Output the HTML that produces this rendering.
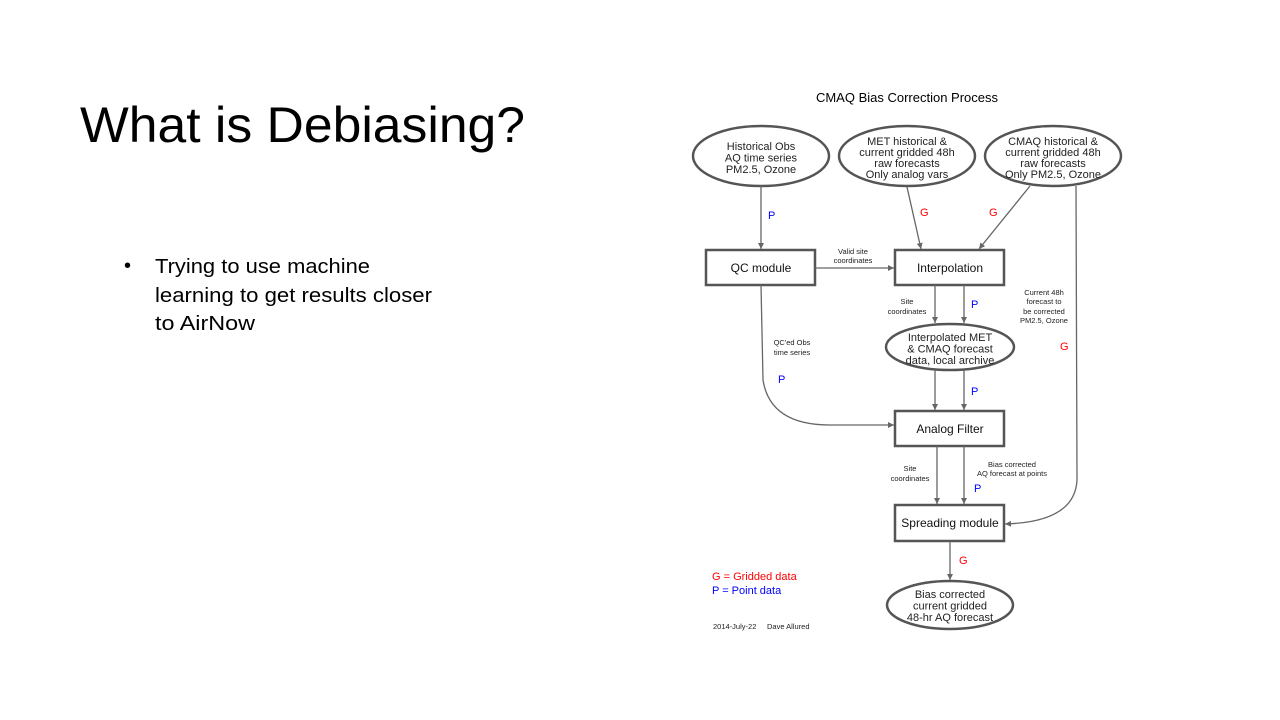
<!DOCTYPE html>
<html><head><meta charset="utf-8"><style>
html,body{margin:0;padding:0;background:#fff;}
svg{display:block;font-family:"Liberation Sans",Arial,sans-serif;}
</style></head><body>
<svg width="1280" height="720" viewBox="0 0 1280 720" xmlns="http://www.w3.org/2000/svg">
<defs>
<marker id="a" markerWidth="8" markerHeight="8" refX="6" refY="3" orient="auto" markerUnits="userSpaceOnUse">
<path d="M0,0 L6,3 L0,6 Z" fill="#666"/></marker>
</defs>
<rect width="1280" height="720" fill="#fff"/>
<text x="80" y="142" font-size="50" fill="#000" textLength="445" lengthAdjust="spacingAndGlyphs">What is Debiasing?</text>
<text x="124" y="272" font-size="20" fill="#000">•</text>
<text x="155" y="273" font-size="20" fill="#000" textLength="215" lengthAdjust="spacingAndGlyphs">Trying to use machine</text>
<text x="155" y="302" font-size="20" fill="#000" textLength="277" lengthAdjust="spacingAndGlyphs">learning to get results closer</text>
<text x="155" y="330" font-size="20" fill="#000" textLength="100" lengthAdjust="spacingAndGlyphs">to AirNow</text>

<text x="907" y="102" font-size="13" text-anchor="middle" fill="#000">CMAQ Bias Correction Process</text>

<g fill="#fff" stroke="#555" stroke-width="2.5">
<ellipse cx="761" cy="156" rx="68" ry="30"/>
<ellipse cx="907" cy="156" rx="68" ry="30"/>
<ellipse cx="1053" cy="156" rx="68" ry="30"/>
<rect x="706" y="250" width="109" height="35"/>
<rect x="895" y="250" width="109" height="35"/>
<ellipse cx="950" cy="347" rx="64" ry="23"/>
<rect x="895" y="411" width="109" height="35"/>
<rect x="895" y="505" width="109" height="36"/>
<ellipse cx="950" cy="605" rx="63" ry="24"/>
</g>

<g stroke="#666" stroke-width="1.3" fill="none" marker-end="url(#a)">
<line x1="761" y1="186" x2="761" y2="249"/>
<line x1="815" y1="268" x2="894" y2="268"/>
<line x1="907" y1="187" x2="921" y2="249"/>
<line x1="1030" y1="186" x2="979" y2="249"/>
<line x1="935" y1="285" x2="935" y2="323"/>
<line x1="964" y1="285" x2="964" y2="323"/>
<line x1="935" y1="370" x2="935" y2="410"/>
<line x1="964" y1="370" x2="964" y2="410"/>
<path d="M761,285 L763,380 Q770,425 830,425 L894,425"/>
<line x1="937" y1="446" x2="937" y2="504"/>
<line x1="964" y1="446" x2="964" y2="504"/>
<path d="M1076,186 L1077,480 Q1075,522 1005,524"/>
<line x1="950" y1="541" x2="950" y2="580"/>
</g>

<g font-size="11" text-anchor="middle" fill="#222">
<text x="761" y="150">Historical Obs</text><text x="761" y="161.5">AQ time series</text><text x="761" y="173">PM2.5, Ozone</text>
<text x="907" y="145">MET historical &amp;</text><text x="907" y="156">current gridded 48h</text><text x="907" y="167">raw forecasts</text><text x="907" y="178">Only analog vars</text>
<text x="1053" y="145">CMAQ historical &amp;</text><text x="1053" y="156">current gridded 48h</text><text x="1053" y="167">raw forecasts</text><text x="1053" y="178">Only PM2.5, Ozone</text>
<text x="950" y="341">Interpolated MET</text><text x="950" y="352.5">&amp; CMAQ forecast</text><text x="950" y="364">data, local archive</text>
<text x="950" y="598">Bias corrected</text><text x="950" y="609.5">current gridded</text><text x="950" y="621">48-hr AQ forecast</text>
</g>
<g font-size="12" text-anchor="middle" fill="#111">
<text x="761" y="272">QC module</text>
<text x="950" y="272">Interpolation</text>
<text x="950" y="433">Analog Filter</text>
<text x="950" y="527">Spreading module</text>
</g>
<g font-size="7.5" text-anchor="middle" fill="#222">
<text x="853" y="254">Valid site</text><text x="853" y="263">coordinates</text>
<text x="907" y="304">Site</text><text x="907" y="314">coordinates</text>
<text x="1044" y="295">Current 48h</text><text x="1044" y="304">forecast to</text><text x="1044" y="314">be corrected</text><text x="1044" y="323">PM2.5, Ozone</text>
<text x="792" y="345">QC'ed Obs</text><text x="792" y="355">time series</text>
<text x="910" y="471">Site</text><text x="910" y="481">coordinates</text>
<text x="1012" y="467">Bias corrected</text><text x="1012" y="476">AQ forecast at points</text>
</g>
<g font-size="11">
<text x="768" y="219" fill="#00f">P</text>
<text x="920" y="216" fill="#f00">G</text>
<text x="989" y="216" fill="#f00">G</text>
<text x="971" y="308" fill="#00f">P</text>
<text x="1060" y="350" fill="#f00">G</text>
<text x="778" y="383" fill="#00f">P</text>
<text x="971" y="395" fill="#00f">P</text>
<text x="974" y="492" fill="#00f">P</text>
<text x="959" y="564" fill="#f00">G</text>
<text x="712" y="580" fill="#f00">G = Gridded data</text>
<text x="712" y="594" fill="#00f">P = Point data</text>
</g>
<text x="713" y="629" font-size="7.5" fill="#222">2014-July-22</text>
<text x="767" y="629" font-size="7.5" fill="#222">Dave Allured</text>
</svg>
</body></html>
